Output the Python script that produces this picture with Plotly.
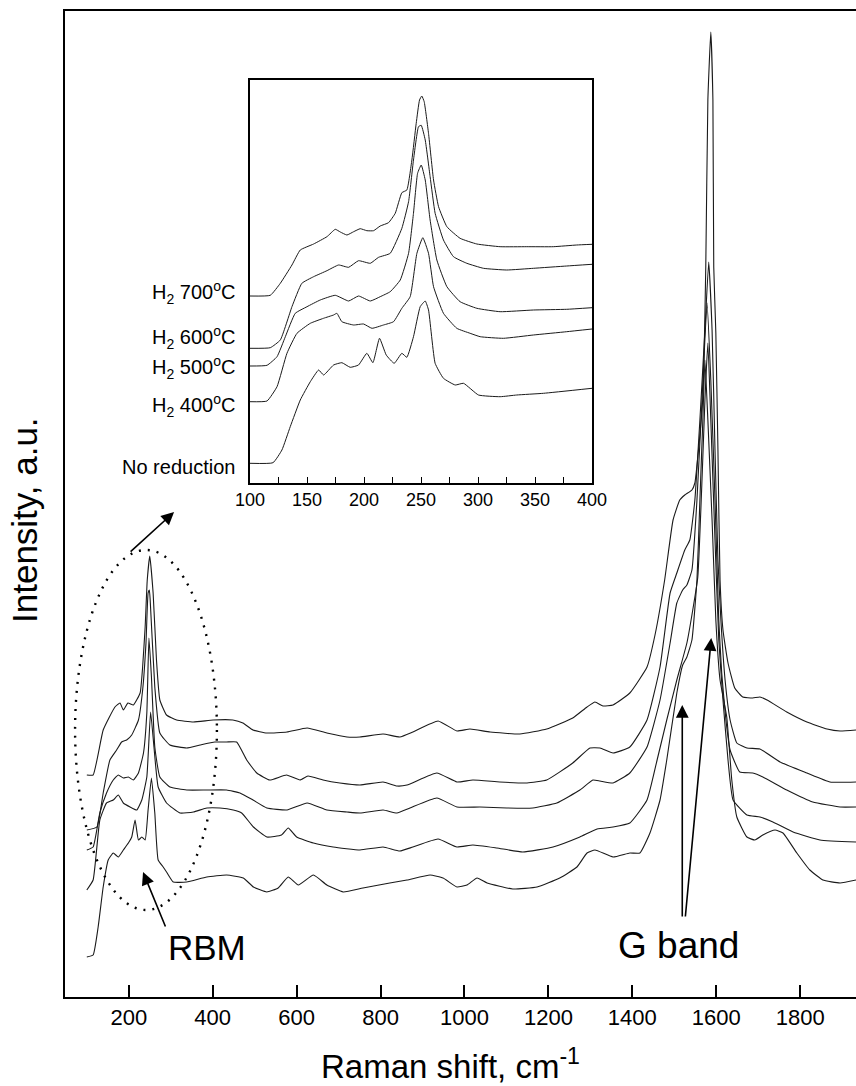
import plotly.graph_objects as go

# ---------------- main spectra (Raman shift, intensity a.u.) ----------------
A_x = [100,115,139,167,179,187,198,211,227,233,239,244,250,258,266,274,290,314,354,401,448,472,496,529,577,625,672,720,751,806,846,877,937,982,1013,1061,1132,1196,1258,1292,1311,1330,1354,1394,1435,1454,1477,1497,1513,1525,1542,1549,1556,1568,1575,1580,1587,1592,1594,1599,1604,1609,1616,1628,1644,1663,1687,1704,1721,1768,1816,1864,1895,1933]
A_y = [222,222,267,290,294,287,294,292,304,330,370,417,441,404,337,297,282,277,275,277,277,274,267,264,265,269,264,260,260,263,260,265,276,266,268,265,263,268,279,290,295,291,292,304,330,362,417,477,497,502,507,514,540,600,730,897,965,897,730,664,547,417,367,334,309,300,299,300,297,285,275,268,266,267]

B_x = [100,124,139,155,171,183,195,207,223,233,241,246,249,251,262,274,298,338,370,405,433,457,481,505,536,576,608,627,663,703,751,806,839,863,934,982,1020,1084,1149,1196,1258,1299,1323,1354,1394,1435,1466,1490,1506,1525,1537,1549,1561,1573,1582,1590,1597,1604,1611,1621,1633,1649,1673,1704,1752,1816,1871,1933]
B_y = [167,170,204,237,247,255,257,262,277,307,354,404,407,397,310,264,252,249,252,255,255,255,237,224,217,222,217,221,217,214,212,215,211,212,224,215,217,215,214,217,234,249,249,244,250,277,330,404,424,447,457,497,577,667,735,667,547,437,377,317,277,254,249,248,235,224,215,215]

C_x = [100,115,131,147,163,175,187,199,211,223,235,243,248,254,262,274,298,338,386,433,465,496,529,577,625,672,720,751,806,839,870,934,982,1037,1101,1163,1220,1275,1306,1323,1354,1394,1435,1466,1490,1506,1520,1530,1542,1554,1566,1578,1587,1597,1606,1613,1623,1633,1656,1687,1711,1768,1830,1895,1933]
C_y = [147,150,184,204,217,222,219,220,217,224,244,284,359,320,250,220,210,207,207,207,204,197,189,187,194,187,185,184,187,184,189,199,190,190,189,189,194,207,217,216,214,224,250,297,354,394,407,412,427,497,597,694,617,497,377,324,277,247,225,224,220,207,195,190,190]

D_x = [100,115,131,147,163,175,187,203,219,231,243,252,260,270,290,322,354,386,417,449,469,497,529,564,580,600,640,687,751,806,846,877,937,982,1020,1077,1139,1211,1275,1316,1354,1394,1435,1459,1482,1506,1530,1544,1556,1566,1573,1580,1587,1597,1606,1616,1628,1640,1673,1704,1735,1783,1847,1933]
D_y = [107,117,177,194,197,202,194,190,187,197,220,285,250,210,194,184,185,189,189,187,184,170,160,162,169,160,154,150,147,150,146,150,158,150,152,149,145,150,160,168,170,174,197,237,277,317,354,387,420,517,597,654,577,457,357,297,237,197,182,180,175,165,157,155]

E_x = [100,115,127,139,151,163,175,187,199,207,215,223,231,239,246,254,262,270,282,290,306,338,386,433,473,497,529,556,580,604,640,672,711,758,822,863,918,949,982,1006,1030,1054,1115,1173,1227,1268,1292,1311,1354,1394,1418,1442,1466,1482,1506,1520,1530,1542,1554,1561,1568,1573,1580,1590,1599,1609,1625,1637,1649,1673,1692,1711,1740,1759,1792,1823,1854,1895,1933]
E_y = [40,42,70,110,137,144,140,147,154,160,177,157,160,157,187,219,184,137,130,125,115,115,120,122,119,110,105,109,120,112,122,112,105,109,114,117,122,119,110,112,119,114,108,110,119,130,144,147,140,144,144,164,197,237,304,332,340,357,417,497,577,637,577,477,377,317,280,217,180,160,157,162,167,164,144,127,117,114,117]

# ---------------- inset spectra (100-400 cm-1) ----------------
I700_x = [100,117.8,126.6,136.8,144.1,155.8,167.5,174.8,179.2,185,190.9,196.7,202.5,208.4,214.2,221.5,227.4,233.2,237.6,242,245.8,248.7,250.7,252.8,256.6,261,265.4,272.7,284.3,299,319.4,342.8,366.1,386.6,400]
I700_y = [187,187.7,199.7,218,233,239,246.3,253.7,251,248,251.3,254.3,252.3,252.3,257,260.3,269.7,290.3,293,323,359.7,383,387,381.3,349.7,303,276.3,256.3,244.7,239,236.3,236.3,236.3,238,238.7]

I600_x = [100,117.8,126.6,136.8,145.5,155.8,167.5,177.7,186.5,195.2,205.5,212.8,223,233.2,239.1,243.4,247.8,250.2,253.7,258,262.4,269.7,278.5,290.2,304.8,325.2,348.6,377.8,400]
I600_y = [134.7,135.3,143,176.3,199.7,206.3,212.3,218,215.7,222.3,219.7,225.7,229.7,254.7,281.3,323,356.3,357.7,343,306.3,269.7,243,226.3,219.7,214.7,213,214.7,217,218.7]

I500_x = [100,114.9,123.7,131,139.7,150,161.6,174.8,186.5,195.2,205.5,214.2,223,231.8,239.1,243.4,247,250.2,253.7,258,263.9,272.7,284.3,299,319.4,348.6,377.8,400]
I500_y = [117,117.7,126.3,146.3,169.7,176.3,183,187.7,182,187,182,186.3,191.3,203,229.7,269.7,309.7,318,303,263,223,196.3,181.3,174.7,171.3,173,173.7,175.3]

I400_x = [100,114.9,123.7,132.4,141.2,152.9,164.5,173.3,176.2,180.6,190.9,199.6,207,217.1,225.9,233.2,240.5,246.4,251.6,256.6,261,269.7,281.4,293.1,301.9,322.3,348.6,377.8,400]
I400_y = [81.3,82,96.3,129.7,149.7,159.7,164.7,168,169.7,161.3,158,159,154.7,158,161.3,174.7,186.3,229.7,245.3,229.7,196.3,169.7,154.7,149.7,146.3,144.7,148,151.3,154]

Inr_x = [100,120.2,128,135.3,144.1,152.9,160.2,164.6,173.3,180.6,187.9,195.2,202.5,207.8,213.6,219.5,226.5,233.2,237.6,243.4,249.3,253.7,256.6,262.4,269.7,280,287.3,300.4,319.4,334,357.4,400]
Inr_y = [19.7,20.3,33,56.3,83,101.3,113,108,118,120.3,115.7,118,129.7,120.3,144.7,128,119.7,129.7,125.7,146.3,176.3,182,173,119.7,104.7,98,99.7,88,86.3,88,89.7,94.7]

main_ticks = [200, 400, 600, 800, 1000, 1200, 1400, 1600, 1800]
inset_ticks = [100, 150, 200, 250, 300, 350, 400]
inset_labels = ["H<sub>2</sub> 700<sup>o</sup>C", "H<sub>2</sub> 600<sup>o</sup>C",
                "H<sub>2</sub> 500<sup>o</sup>C", "H<sub>2</sub> 400<sup>o</sup>C", "No reduction"]

# ---------------- layout geometry ----------------
W, H = 856, 1086
ML, MR, MT, MB = 65, 0, 11, 89
FONT = "Liberation Sans, Arial, sans-serif"
LINE = dict(color="#1a1a1a", width=1.1, shape="spline", smoothing=0.4)


def px(xp):
    return (xp - ML) / (W - ML - MR)


def py(yp):
    return (H - MB - yp) / (H - MT - MB)


fig = go.Figure()
for xs, ys in [(A_x, A_y), (B_x, B_y), (C_x, C_y), (D_x, D_y), (E_x, E_y)]:
    fig.add_trace(go.Scatter(x=xs, y=ys, mode="lines", line=LINE, showlegend=False,
                             xaxis="x", yaxis="y"))
for xs, ys in [(I700_x, I700_y), (I600_x, I600_y), (I500_x, I500_y), (I400_x, I400_y), (Inr_x, Inr_y)]:
    fig.add_trace(go.Scatter(x=xs, y=ys, mode="lines",
                             line=dict(color="#1a1a1a", width=1.0, shape="spline", smoothing=0.4),
                             showlegend=False, xaxis="x2", yaxis="y2"))

fig.update_layout(
    width=W, height=H, autosize=False,
    margin=dict(l=ML, r=MR, t=MT, b=MB, autoexpand=False),
    paper_bgcolor="white", plot_bgcolor="white",
    font=dict(family=FONT, color="black"),
    xaxis=dict(domain=[0, 1], range=[48, 1933], tickvals=main_ticks, ticks="inside",
               ticklen=12, tickwidth=1.5, tickcolor="black", showline=True, linewidth=2,
               linecolor="black", mirror=True, showgrid=False, zeroline=False,
               tickfont=dict(size=22, family=FONT), anchor="y", automargin=False),
    yaxis=dict(domain=[0, 1], range=[0, 986], showticklabels=False, ticks="",
               showline=True, linewidth=2, linecolor="black", mirror=False,
               showgrid=False, zeroline=False, anchor="x", automargin=False),
    xaxis2=dict(domain=[px(250), px(592)], range=[100, 400], tickvals=inset_ticks,
                ticks="inside", ticklen=6, tickwidth=1, tickcolor="black",
                minor=dict(dtick=25, tick0=100, ticks="inside", ticklen=6, tickcolor="black"),
                showline=True, linewidth=1.5, linecolor="black", mirror=True,
                showgrid=False, zeroline=False, tickfont=dict(size=18, family=FONT),
                anchor="y2", automargin=False),
    yaxis2=dict(domain=[py(483), py(80)], range=[0, 403], showticklabels=False, ticks="",
                showline=True, linewidth=1.5, linecolor="black", mirror=True,
                showgrid=False, zeroline=False, anchor="x2", automargin=False),
)

# inset background
fig.add_shape(type="rect", xref="x2 domain", yref="y2 domain", x0=0, x1=1, y0=0, y1=1,
              fillcolor="white", line=dict(width=0), layer="below")

# dotted ellipse around RBM
fig.add_shape(type="circle", xref="x", yref="y", x0=72, x1=410, y0=87, y1=447,
              line=dict(color="black", width=2.4, dash="2px,7px"))

annots = []
# axis titles
annots.append(dict(xref="paper", yref="paper", x=px(450), y=py(1064), text="Raman shift, cm<sup>-1</sup>",
                   showarrow=False, font=dict(size=33, family=FONT), xanchor="center", yanchor="middle"))
annots.append(dict(xref="paper", yref="paper", x=px(24), y=py(520), text="Intensity, a.u.",
                   textangle=-90, showarrow=False, font=dict(size=35, family=FONT),
                   xanchor="center", yanchor="middle"))
# inset sample labels
for lab, yp in zip(inset_labels, [292, 337, 368, 405, 467]):
    annots.append(dict(xref="paper", yref="paper", x=px(237), y=py(yp), text=lab, showarrow=False,
                       font=dict(size=20, family=FONT), xanchor="right", yanchor="middle"))
# text labels
annots.append(dict(xref="paper", yref="paper", x=px(207), y=py(947), text="RBM", showarrow=False,
                   font=dict(size=35, family=FONT), xanchor="center", yanchor="middle"))
annots.append(dict(xref="paper", yref="paper", x=px(678), y=py(945), text="G band", showarrow=False,
                   font=dict(size=37, family=FONT), xanchor="center", yanchor="middle"))
# arrows
arrow = dict(showarrow=True, arrowhead=2, arrowsize=1.6, arrowwidth=1.6, arrowcolor="black", text="",
             xref="x", yref="y", axref="pixel", ayref="pixel")
annots.append(dict(arrow, x=234, y=125, ax=23, ay=56))
annots.append(dict(arrow, x=1519, y=292, ax=0, ay=213))
annots.append(dict(arrow, x=1588, y=359, ax=-26, ay=280))
annots.append(dict(arrow, x=308, y=485, ax=-45, ay=41))
fig.update_layout(annotations=annots)

fig.write_html("out.html", config={"responsive": False})
